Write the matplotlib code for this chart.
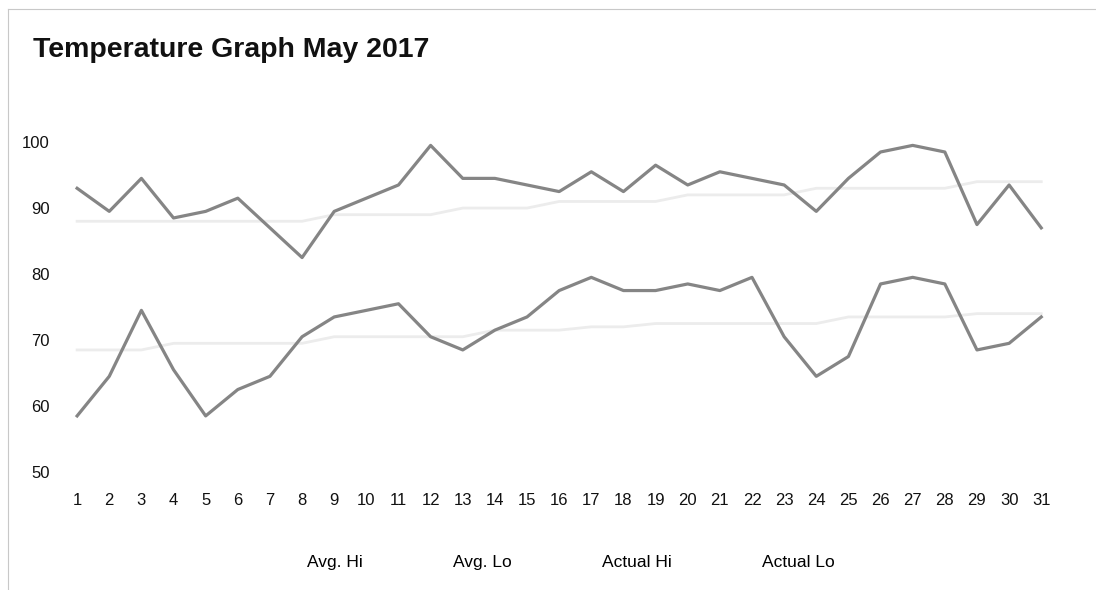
import matplotlib
matplotlib.use("Agg")
import matplotlib.pyplot as plt
from matplotlib.lines import Line2D
import numpy as np

days = np.arange(1, 32)

actual_hi = [93, 89.5, 94.5, 88.5, 89.5, 91.5, 87, 82.5, 89.5, 91.5, 93.5, 99.5,
             94.5, 94.5, 93.5, 92.5, 95.5, 92.5, 96.5, 93.5, 95.5, 94.5, 93.5, 89.5,
             94.5, 98.5, 99.5, 98.5, 87.5, 93.5, 87]
actual_lo = [58.5, 64.5, 74.5, 65.5, 58.5, 62.5, 64.5, 70.5, 73.5, 74.5, 75.5, 70.5,
             68.5, 71.5, 73.5, 77.5, 79.5, 77.5, 77.5, 78.5, 77.5, 79.5, 70.5, 64.5,
             67.5, 78.5, 79.5, 78.5, 68.5, 69.5, 73.5]
avg_hi = [88, 88, 88, 88, 88, 88, 88, 88, 89, 89, 89, 89, 90, 90, 90, 91,
          91, 91, 91, 92, 92, 92, 92, 93, 93, 93, 93, 93, 94, 94, 94]
avg_lo = [68.5, 68.5, 68.5, 69.5, 69.5, 69.5, 69.5, 69.5, 70.5, 70.5, 70.5, 70.5,
          70.5, 71.5, 71.5, 71.5, 72, 72, 72.5, 72.5, 72.5, 72.5, 72.5, 72.5,
          73.5, 73.5, 73.5, 73.5, 74, 74, 74]

labels = ["Avg. Hi", "Avg. Lo", "Actual Hi", "Actual Lo"]
yticks = [50, 60, 70, 80, 90, 100]

plt.rcParams['font.family'] = ['Liberation Sans', 'DejaVu Sans']

fig = plt.figure(figsize=(10.96, 5.90), dpi=100)
ax = fig.add_axes([0.0557, 0.2, 0.909, 0.671])

faint = '#ececec'
dark = '#858585'
ax.plot(days, avg_hi, color=faint, lw=2, label=labels[0])
ax.plot(days, avg_lo, color=faint, lw=2, label=labels[1])
ax.plot(days, actual_hi, color=dark, lw=2.3, label=labels[2])
ax.plot(days, actual_lo, color=dark, lw=2.3, label=labels[3])

ax.set_xlim(0.5, 31.5)
ax.set_ylim(50, 110)
ax.set_xticks(days)
ax.set_xticklabels([str(d) for d in days])
ax.set_yticks(yticks)
ax.tick_params(axis='both', length=0, labelsize=12, colors='#111111')
ax.tick_params(axis='x', pad=15)
ax.tick_params(axis='y', pad=8)
for s in ax.spines.values():
    s.set_visible(False)

leg = fig.legend(loc='center', bbox_to_anchor=(0.495, 0.046), ncol=4, frameon=False,
                 fontsize=12.5, handlelength=2.5, handletextpad=0.8, columnspacing=1.9)
for h in leg.legend_handles:
    h.set_visible(False)

fig.text(0.030, 0.903, "Temperature Graph May 2017", fontsize=20.5, fontweight='bold',
         ha='left', va='baseline', color='#111111')

# scanned page border (left and top)
fig.add_artist(Line2D([0.0075, 0.0075], [0.0, 0.985], color='#c8c8c8', lw=0.8))
fig.add_artist(Line2D([0.0075, 1.0], [0.985, 0.985], color='#c8c8c8', lw=0.8))

fig.savefig("out.png", dpi=100)
